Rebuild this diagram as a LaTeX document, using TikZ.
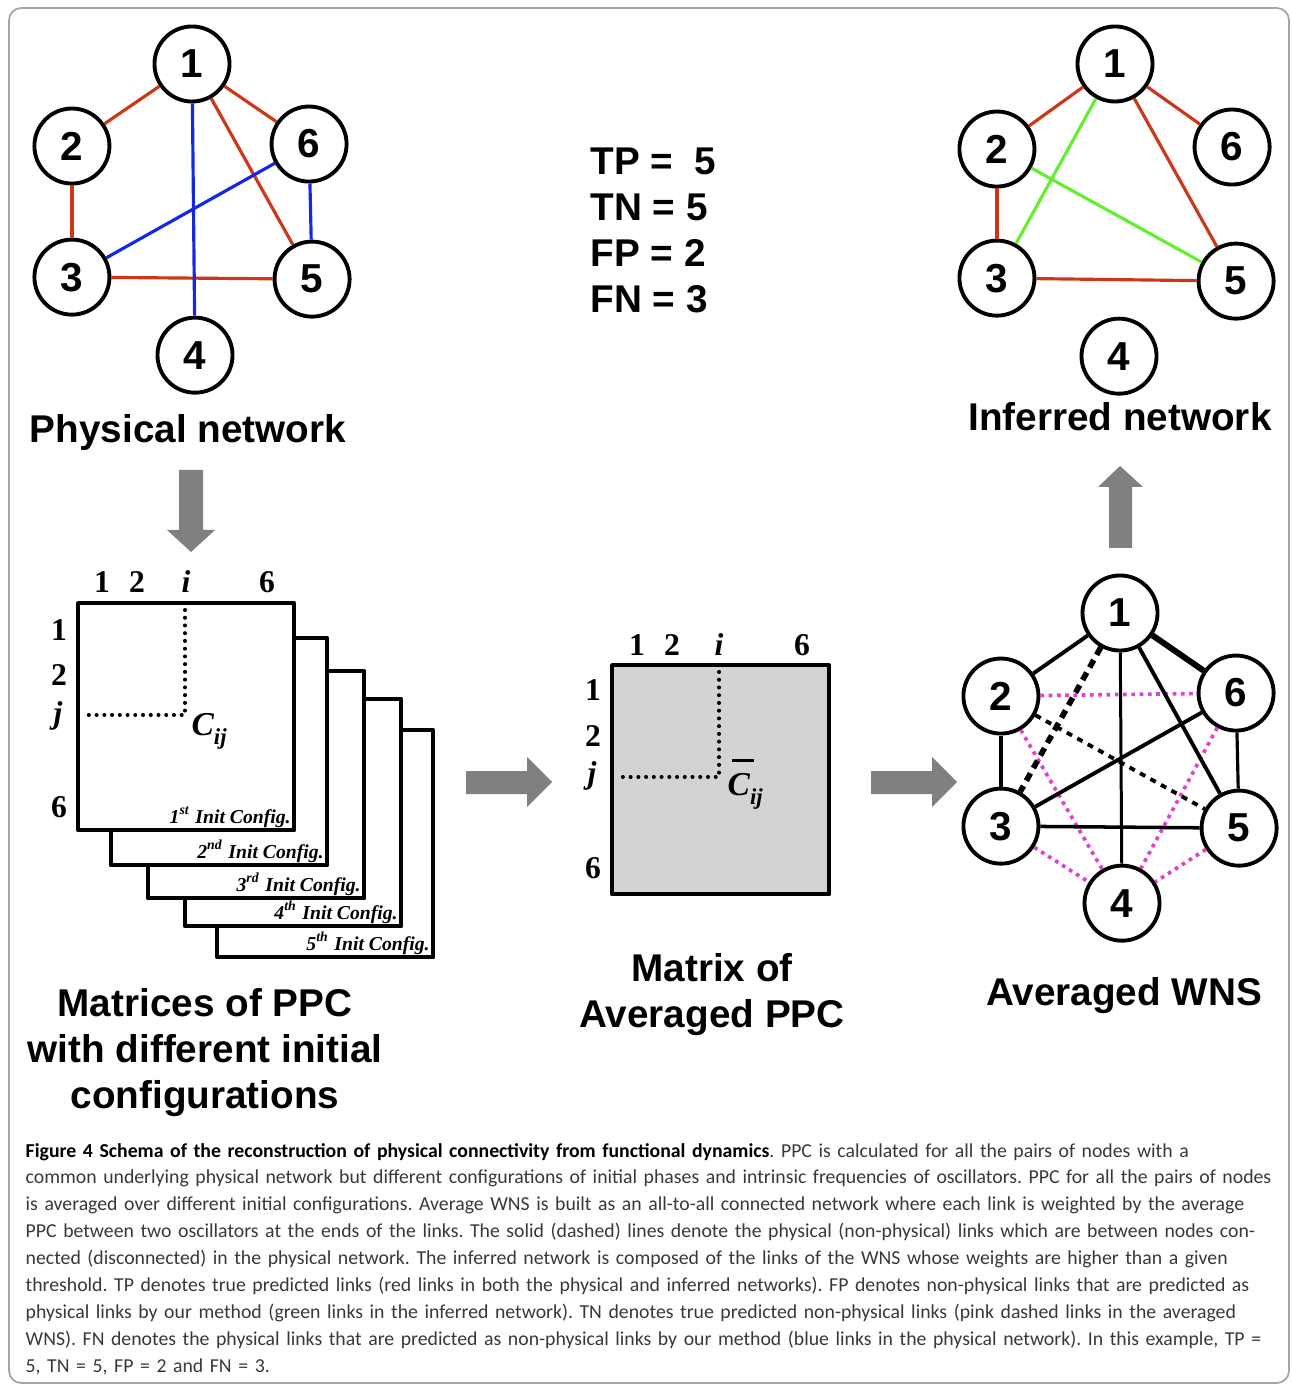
\documentclass[tikz,border=0pt]{standalone}
\usepackage{fontspec}
\setmainfont{Liberation Sans}
\newfontfamily\timesfont{Liberation Serif}
\newfontfamily\capfont{Carlito}
\usepackage{xcolor}
\usetikzlibrary{positioning}

\definecolor{linkred}{RGB}{205,55,25}
\definecolor{linkblue}{RGB}{20,40,225}
\definecolor{linkgreen}{RGB}{100,238,50}
\definecolor{linkpink}{RGB}{225,65,205}
\definecolor{arrowgray}{RGB}{128,128,128}
\definecolor{matgray}{RGB}{211,211,211}
\definecolor{framegray}{RGB}{165,165,165}

\begin{document}
\begin{tikzpicture}[x=0.01cm,y=-0.01cm,-,line join=round]
	\tikzstyle{vert}=[draw, circle, fill=white, line width=1.1pt, minimum size=0.75cm, inner sep=0pt, on grid, font=\fontsize{11.5}{12}\selectfont\bfseries]
	\tikzstyle{title}=[inner sep=0pt, align=center, font=\fontsize{11}{13.1}\selectfont\bfseries]
	\tikzstyle{redlink}=[linkred, line width=0.9pt]
	\tikzstyle{bluelink}=[linkblue, line width=0.9pt]
	\tikzstyle{greenlink}=[linkgreen, line width=0.9pt]
	\tikzstyle{pinklink}=[linkpink, line width=1.05pt, dash pattern=on 1.05pt off 1.3pt]
	\tikzstyle{mat}=[draw, fill=white, line width=1.2pt, minimum width=2.16cm, minimum height=2.27cm, anchor=north west, inner sep=0pt]
	\tikzstyle{cfg}=[anchor=base east, inner sep=0pt, font=\timesfont\fontsize{5.6}{6}\selectfont\bfseries\itshape]
	\tikzstyle{num}=[anchor=base, inner sep=0pt, font=\timesfont\fontsize{9}{10}\selectfont\bfseries]
	\tikzstyle{cval}=[anchor=base west, inner sep=0pt, font=\timesfont\fontsize{9.5}{10}\selectfont\bfseries\itshape]
	\tikzstyle{dots}=[line width=1.15pt, line cap=round, dash pattern=on 0pt off 2.2pt]

	\useasboundingbox (0,0) rectangle (1292,1386);
	\draw[framegray, line width=0.5pt, rounded corners=3.5pt] (9,8) rectangle (1289,1383);

	% physical network
	\node[vert] (P1) at (192,64) {1};
	\node[vert] (P2) [below left=0.82cm and 1.2cm of P1] {2};
	\node[vert] (P6) [below right=0.8cm and 1.17cm of P1] {6};
	\node[vert] (P3) [below=1.31cm of P2] {3};
	\node[vert] (P5) [below right=2.15cm and 1.2cm of P1] {5};
	\node[vert] (P4) [below right=2.91cm and 0.03cm of P1] {4};
	\path
		(P1) edge [redlink] (P2)
		(P1) edge [redlink] (P6)
		(P1) edge [redlink] (P5)
		(P2) edge [redlink] (P3)
		(P3) edge [redlink] (P5)
		(P1) edge [bluelink] (P4)
		(P3) edge [bluelink] (P6)
		(P6) edge [bluelink] (P5);
	\node[title, anchor=base] (physlbl) at (188,443) {Physical network};

	\node[title, anchor=base west, align=left] (scores) at (590,313) {TP =\ \ 5\\TN = 5\\FP = 2\\FN = 3};

	% inferred network
	\node[vert] (I1) at (1115,64) {1};
	\node[vert] (I2) [below left=0.85cm and 1.18cm of I1] {2};
	\node[vert] (I6) [below right=0.83cm and 1.17cm of I1] {6};
	\node[vert] (I3) [below=1.29cm of I2] {3};
	\node[vert] (I5) [below right=2.17cm and 1.21cm of I1] {5};
	\node[vert] (I4) [below right=2.92cm and 0.04cm of I1] {4};
	\path
		(I1) edge [redlink] (I2)
		(I1) edge [redlink] (I6)
		(I1) edge [redlink] (I5)
		(I2) edge [redlink] (I3)
		(I3) edge [redlink] (I5)
		(I1) edge [greenlink] (I3)
		(I2) edge [greenlink] (I5);
	\node[title, anchor=base] (inflbl) at (1120,431) {Inferred network};

	% grey block arrows
	\fill[arrowgray] (179,470) -- (203,470) -- (203,530) -- (215,530) -- (191,552) -- (167,530) -- (179,530) -- cycle;
	\fill[arrowgray] (1109,548) -- (1132,548) -- (1132,487) -- (1143,487) -- (1120,466) -- (1098,487) -- (1109,487) -- cycle;
	\fill[arrowgray] (466,771) -- (527,771) -- (527,757) -- (552,782) -- (527,807) -- (527,794) -- (466,794) -- cycle;
	\fill[arrowgray] (871,771) -- (932,771) -- (932,757) -- (957,782) -- (932,807) -- (932,794) -- (871,794) -- cycle;

	% stack of PPC matrices
	\node[mat] (M5) at (215,728) {};
	\node[cfg] at ([shift={(-5,-9)}]M5.south east) {5\textsuperscript{th} Init Config.};
	\node[mat] (M4) at (183,697) {};
	\node[cfg] at ([shift={(-5,-9)}]M4.south east) {4\textsuperscript{th} Init Config.};
	\node[mat] (M3) at (146,669) {};
	\node[cfg] at ([shift={(-5,-9)}]M3.south east) {3\textsuperscript{rd} Init Config.};
	\node[mat] (M2) at (109,636) {};
	\node[cfg] at ([shift={(-5,-9)}]M2.south east) {2\textsuperscript{nd} Init Config.};
	\node[mat] (M1) at (76,601) {};
	\node[cfg] at ([shift={(-5,-9)}]M1.south east) {1\textsuperscript{st} Init Config.};
	\node[num] at (102,593) {1};
	\node[num] at (137,593) {2};
	\node[num] at (186,593) {\itshape i};
	\node[num] at (267,593) {6};
	\node[num] at (59,640) {1};
	\node[num] at (59,685) {2};
	\node[num] at (58,723) {\itshape j};
	\node[num] at (59,817) {6};
	\coordinate (mc) at (185,715);
	\draw[dots] (185,610) -- (mc) -- (82,715);
	\node[cval] (cij) at (191,735) {C\raisebox{-0.6ex}{\fontsize{6.5}{7}\selectfont ij}};
	\node[title] (matlbl) at (205,1053) {Matrices of PPC\\with different initial\\configurations};

	% averaged matrix
	\node[mat, fill=matgray, minimum width=2.17cm, minimum height=2.29cm] (AVG) at (610,663) {};
	\node[num] at (637,655) {1};
	\node[num] at (672,655) {2};
	\node[num] at (719,655) {\itshape i};
	\node[num] at (802,655) {6};
	\node[num] at (593,700) {1};
	\node[num] at (593,746) {2};
	\node[num] at (592,783) {\itshape j};
	\node[num] at (593,878) {6};
	\coordinate (ac) at (719,777);
	\draw[dots] (719,672) -- (ac) -- (618,777);
	\node[cval] (cbar) at (727,795) {\rlap{\hspace{0.12em}\rule[1.0em]{0.68em}{0.09em}}C\raisebox{-0.6ex}{\fontsize{6.5}{7}\selectfont ij}};
	\node[title] (avglbl) at (712,995) {Matrix of\\Averaged PPC};

	% averaged WNS
	\node[vert] (W1) at (1120,613) {1};
	\node[vert] (W2) [below left=0.83cm and 1.19cm of W1] {2};
	\node[vert] (W6) [below right=0.8cm and 1.16cm of W1] {6};
	\node[vert] (W3) [below=1.3cm of W2] {3};
	\node[vert] (W5) [below right=2.15cm and 1.19cm of W1] {5};
	\node[vert] (W4) [below right=2.9cm and 0.02cm of W1] {4};
	\path
		(W2) edge [pinklink] (W6)
		(W2) edge [pinklink] (W4)
		(W6) edge [pinklink] (W4)
		(W3) edge [pinklink] (W4)
		(W5) edge [pinklink] (W4)
		(W1) edge [line width=1.6pt, dash pattern=on 2.4pt off 1.7pt] (W3)
		(W2) edge [line width=1.1pt, dash pattern=on 1.7pt off 1.7pt] (W5)
		(W1) edge [line width=1.1pt] (W2)
		(W1) edge [line width=1.7pt] (W6)
		(W1) edge [line width=0.85pt] (W4)
		(W1) edge [line width=1.1pt] (W5)
		(W2) edge [line width=1.1pt] (W3)
		(W3) edge [line width=1.1pt] (W6)
		(W3) edge [line width=1pt] (W5)
		(W6) edge [line width=0.9pt] (W5);
	\node[title, anchor=base] (wnslbl) at (1124,1005) {Averaged WNS};

	% caption
	\node[anchor=base west, inner sep=0pt, align=left, text width=12.95cm, text=black!78, font=\capfont\fontsize{5.62}{7.65}\selectfont\frenchspacing] (caption) at (25,1157)
		{\textcolor{black}{\bfseries Figure 4 Schema of the reconstruction of physical connectivity from functional dynamics}. PPC is calculated for all the pairs of nodes with a\\
		common underlying physical network but different configurations of initial phases and intrinsic frequencies of oscillators. PPC for all the pairs of nodes\\
		is averaged over different initial configurations. Average WNS is built as an all-to-all connected network where each link is weighted by the average\\
		PPC between two oscillators at the ends of the links. The solid (dashed) lines denote the physical (non-physical) links which are between nodes con-\\
		nected (disconnected) in the physical network. The inferred network is composed of the links of the WNS whose weights are higher than a given\\
		threshold. TP denotes true predicted links (red links in both the physical and inferred networks). FP denotes non-physical links that are predicted as\\
		physical links by our method (green links in the inferred network). TN denotes true predicted non-physical links (pink dashed links in the averaged\\
		WNS). FN denotes the physical links that are predicted as non-physical links by our method (blue links in the physical network). In this example, TP =\\
		5, TN = 5, FP = 2 and FN = 3.};

\end{tikzpicture}
\end{document}
